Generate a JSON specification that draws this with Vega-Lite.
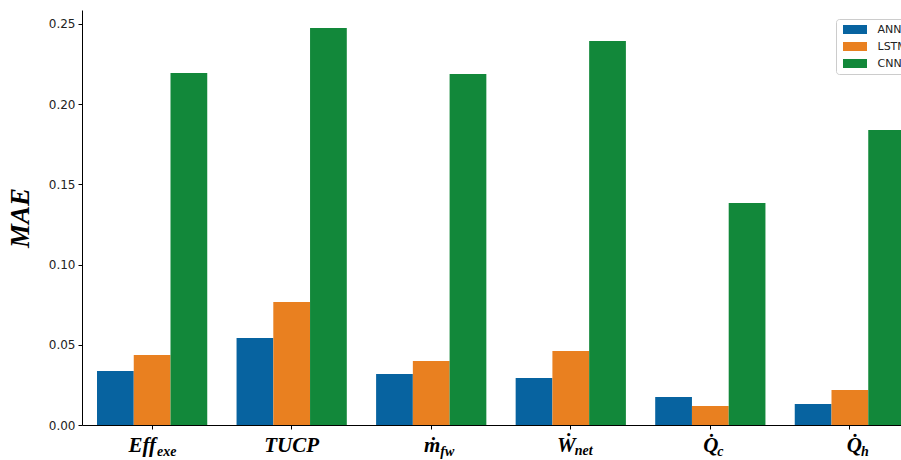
{
  "$schema": "https://vega.github.io/schema/vega-lite/v6.json",
  "width": 819,
  "height": 415,
  "autosize": {"type": "none"},
  "padding": {"left": 82, "top": 10, "right": 0, "bottom": 35},
  "background": "white",
  "config": {
    "view": {"stroke": null},
    "axis": {"domainColor": "#000000", "tickColor": "#000000", "grid": false, "labelColor": "#222222", "domainWidth": 1, "tickWidth": 1}
  },
  "layer": [
    {
      "data": {"values": [
        {"cat": "Eff", "model": "ANN", "mae": 0.0337},
        {"cat": "Eff", "model": "LSTM", "mae": 0.0436},
        {"cat": "Eff", "model": "CNN", "mae": 0.2195},
        {"cat": "TUCP", "model": "ANN", "mae": 0.0542},
        {"cat": "TUCP", "model": "LSTM", "mae": 0.0767},
        {"cat": "TUCP", "model": "CNN", "mae": 0.2475},
        {"cat": "mfw", "model": "ANN", "mae": 0.0318},
        {"cat": "mfw", "model": "LSTM", "mae": 0.0399},
        {"cat": "mfw", "model": "CNN", "mae": 0.2188},
        {"cat": "Wnet", "model": "ANN", "mae": 0.0293},
        {"cat": "Wnet", "model": "LSTM", "mae": 0.0461},
        {"cat": "Wnet", "model": "CNN", "mae": 0.2394},
        {"cat": "Qc", "model": "ANN", "mae": 0.0175},
        {"cat": "Qc", "model": "LSTM", "mae": 0.0118},
        {"cat": "Qc", "model": "CNN", "mae": 0.1384},
        {"cat": "Qh", "model": "ANN", "mae": 0.0131},
        {"cat": "Qh", "model": "LSTM", "mae": 0.0218},
        {"cat": "Qh", "model": "CNN", "mae": 0.1839}
      ]},
      "mark": {"type": "bar"},
      "encoding": {
        "x": {"field": "cat", "type": "nominal",
          "scale": {"domain": ["Eff", "TUCP", "mfw", "Wnet", "Qc", "Qh"], "range": [0, 838], "paddingInner": 0.21, "paddingOuter": 0.1075},
          "axis": {"labels": false, "title": null, "tickSize": 4}},
        "xOffset": {"field": "model", "type": "nominal", "scale": {"domain": ["ANN", "LSTM", "CNN"], "paddingInner": 0, "paddingOuter": 0}},
        "y": {"field": "mae", "type": "quantitative",
          "scale": {"domain": [0, 0.2587], "nice": false, "zero": true},
          "axis": {"values": [0, 0.05, 0.1, 0.15, 0.2, 0.25], "format": ".2f", "labelFont": "DejaVu Sans", "labelFontSize": 12, "tickSize": 4, "labelPadding": 3,
            "title": "MAE", "titleFont": "Liberation Serif", "titleFontStyle": "italic", "titleFontWeight": "bold", "titleFontSize": 27, "titleColor": "#000000", "titlePadding": 14}},
        "color": {"field": "model", "type": "nominal",
          "scale": {"domain": ["ANN", "LSTM", "CNN"], "range": ["#0763a0", "#e98020", "#12883a"]},
          "legend": {"orient": "none", "legendX": 754, "legendY": 9, "title": null, "strokeColor": "#cccccc", "fillColor": "#ffffff", "cornerRadius": 3, "padding": 5,
            "symbolType": "M-2.67,-1H2.67V1H-2.67Z", "symbolSize": 81, "symbolStrokeWidth": 0, "symbolOpacity": 1, "symbolOffset": 8.5,
            "labelFont": "DejaVu Sans", "labelFontSize": 11, "labelColor": "#222222", "rowPadding": 5, "labelOffset": 17}}
      }
    },
    {
      "data": {"values": [
        {"cat": "TUCP", "main": "TUCP"}
      ]},
      "mark": {"type": "text", "font": "Liberation Serif", "fontStyle": "italic", "fontWeight": "bold", "fontSize": 21, "align": "center", "baseline": "alphabetic", "dy": 27, "color": "#000000"},
      "encoding": {"x": {"field": "cat", "type": "nominal"}, "y": {"datum": 0, "type": "quantitative"}, "text": {"field": "main"}}
    },
    {
      "data": {"values": [{"cat": "Eff", "main": "Eff", "sub": "exe"}]},
      "layer": [
        {"mark": {"type": "text", "font": "Liberation Serif", "fontStyle": "italic", "fontWeight": "bold", "fontSize": 21, "align": "right", "baseline": "alphabetic", "dy": 27, "dx": 4, "color": "#000000"},
         "encoding": {"x": {"field": "cat", "type": "nominal"}, "y": {"datum": 0, "type": "quantitative"}, "text": {"field": "main"}}},
        {"mark": {"type": "text", "font": "Liberation Serif", "fontStyle": "italic", "fontWeight": "bold", "fontSize": 14, "align": "left", "baseline": "alphabetic", "dy": 31, "dx": 5, "color": "#000000"},
         "encoding": {"x": {"field": "cat", "type": "nominal"}, "y": {"datum": 0, "type": "quantitative"}, "text": {"field": "sub"}}}
      ]
    },
    {
      "data": {"values": [{"cat": "mfw", "main": "ṁ", "sub": "fw"}]},
      "layer": [
        {"mark": {"type": "text", "font": "Liberation Serif", "fontStyle": "italic", "fontWeight": "bold", "fontSize": 21, "align": "right", "baseline": "alphabetic", "dy": 27, "dx": 9, "color": "#000000"},
         "encoding": {"x": {"field": "cat", "type": "nominal"}, "y": {"datum": 0, "type": "quantitative"}, "text": {"field": "main"}}},
        {"mark": {"type": "text", "font": "Liberation Serif", "fontStyle": "italic", "fontWeight": "bold", "fontSize": 14, "align": "left", "baseline": "alphabetic", "dy": 31, "dx": 9, "color": "#000000"},
         "encoding": {"x": {"field": "cat", "type": "nominal"}, "y": {"datum": 0, "type": "quantitative"}, "text": {"field": "sub"}}}
      ]
    },
    {
      "data": {"values": [{"cat": "Wnet", "main": "Ẇ", "sub": "net"}]},
      "layer": [
        {"mark": {"type": "text", "font": "Liberation Serif", "fontStyle": "italic", "fontWeight": "bold", "fontSize": 21, "align": "right", "baseline": "alphabetic", "dy": 27, "dx": 5, "color": "#000000"},
         "encoding": {"x": {"field": "cat", "type": "nominal"}, "y": {"datum": 0, "type": "quantitative"}, "text": {"field": "main"}}},
        {"mark": {"type": "text", "font": "Liberation Serif", "fontStyle": "italic", "fontWeight": "bold", "fontSize": 14, "align": "left", "baseline": "alphabetic", "dy": 30, "dx": 4, "color": "#000000"},
         "encoding": {"x": {"field": "cat", "type": "nominal"}, "y": {"datum": 0, "type": "quantitative"}, "text": {"field": "sub"}}}
      ]
    },
    {
      "data": {"values": [{"cat": "Qc", "main": "Q̇", "sub": "c"}]},
      "layer": [
        {"mark": {"type": "text", "font": "Liberation Serif", "fontStyle": "italic", "fontWeight": "bold", "fontSize": 21, "align": "right", "baseline": "alphabetic", "dy": 27, "dx": 8, "color": "#000000"},
         "encoding": {"x": {"field": "cat", "type": "nominal"}, "y": {"datum": 0, "type": "quantitative"}, "text": {"field": "main"}}},
        {"mark": {"type": "text", "font": "Liberation Serif", "fontStyle": "italic", "fontWeight": "bold", "fontSize": 14, "align": "left", "baseline": "alphabetic", "dy": 31, "dx": 7, "color": "#000000"},
         "encoding": {"x": {"field": "cat", "type": "nominal"}, "y": {"datum": 0, "type": "quantitative"}, "text": {"field": "sub"}}}
      ]
    },
    {
      "data": {"values": [{"cat": "Qh", "main": "Q̇", "sub": "h"}]},
      "layer": [
        {"mark": {"type": "text", "font": "Liberation Serif", "fontStyle": "italic", "fontWeight": "bold", "fontSize": 21, "align": "right", "baseline": "alphabetic", "dy": 27, "dx": 12, "color": "#000000"},
         "encoding": {"x": {"field": "cat", "type": "nominal"}, "y": {"datum": 0, "type": "quantitative"}, "text": {"field": "main"}}},
        {"mark": {"type": "text", "font": "Liberation Serif", "fontStyle": "italic", "fontWeight": "bold", "fontSize": 14, "align": "left", "baseline": "alphabetic", "dy": 31, "dx": 11, "color": "#000000"},
         "encoding": {"x": {"field": "cat", "type": "nominal"}, "y": {"datum": 0, "type": "quantitative"}, "text": {"field": "sub"}}}
      ]
    }
  ]
}
